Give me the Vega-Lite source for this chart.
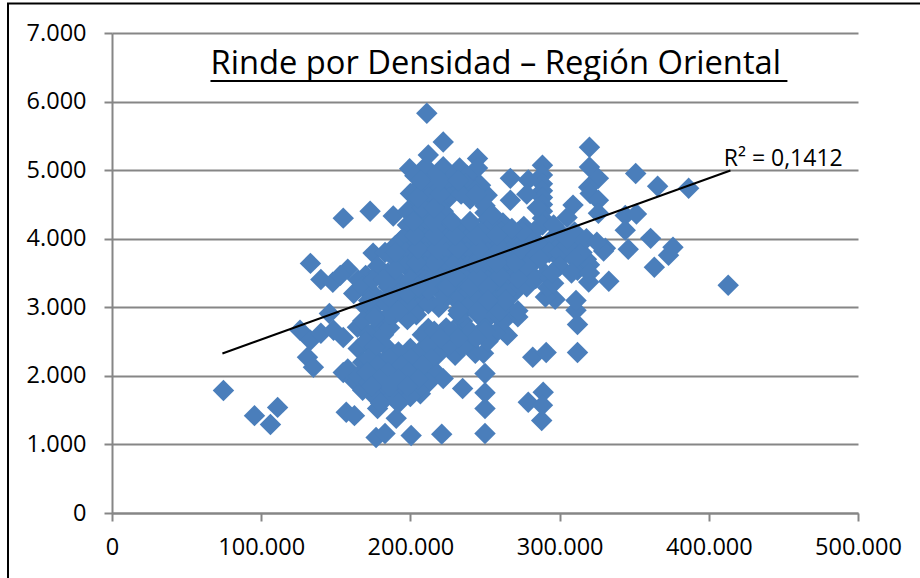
{"$schema":"https://vega.github.io/schema/vega-lite/v6.json","width":746,"height":480,"autosize":"none","padding":{"left":112,"top":33,"right":62,"bottom":65},"background":"white","config":{"view":{"stroke":null},"font":"Open Sans"},
"datasets":{
"pts":[{"x":74700,"y":1786},{"x":95500,"y":1420},{"x":106200,"y":1290},{"x":111000,"y":1540},{"x":413000,"y":3320},{"x":386500,"y":4735},{"x":351000,"y":4950},{"x":365700,"y":4765},{"x":344000,"y":4340},{"x":351500,"y":4360},{"x":344000,"y":4125},{"x":361000,"y":4005},{"x":376000,"y":3875},{"x":373000,"y":3760},{"x":346000,"y":3845},{"x":330700,"y":3860},{"x":329500,"y":3820},{"x":363500,"y":3585},{"x":333000,"y":3380},{"x":320000,"y":5335},{"x":320000,"y":5045},{"x":326000,"y":4880},{"x":319500,"y":4750},{"x":320500,"y":4660},{"x":326000,"y":4560},{"x":326000,"y":4370},{"x":309000,"y":4490},{"x":305000,"y":4310},{"x":288500,"y":5070},{"x":288500,"y":4930},{"x":288500,"y":4800},{"x":288500,"y":4700},{"x":288500,"y":4600},{"x":288500,"y":4500},{"x":288500,"y":4400},{"x":288500,"y":4300},{"x":288500,"y":4200},{"x":267000,"y":4880},{"x":279000,"y":4855},{"x":267000,"y":4560},{"x":245000,"y":5170},{"x":245000,"y":5030},{"x":240000,"y":4855},{"x":251500,"y":4635},{"x":222000,"y":5410},{"x":211000,"y":5830},{"x":212000,"y":5220},{"x":233000,"y":5030},{"x":199500,"y":5020},{"x":200000,"y":4660},{"x":200000,"y":4410},{"x":188500,"y":4330},{"x":193500,"y":3975},{"x":175000,"y":3790},{"x":155000,"y":4300},{"x":173000,"y":4400},{"x":133000,"y":3640},{"x":140000,"y":3405},{"x":148000,"y":3365},{"x":158000,"y":3555},{"x":153000,"y":3465},{"x":170000,"y":3465},{"x":178500,"y":3495},{"x":162000,"y":3200},{"x":145700,"y":2910},{"x":126000,"y":2665},{"x":133000,"y":2520},{"x":131000,"y":2270},{"x":135000,"y":2125},{"x":140000,"y":2620},{"x":148500,"y":2665},{"x":155000,"y":2560},{"x":164500,"y":2710},{"x":165000,"y":2400},{"x":155000,"y":2050},{"x":162000,"y":1935},{"x":168000,"y":1790},{"x":157000,"y":1470},{"x":162500,"y":1420},{"x":177000,"y":1100},{"x":183000,"y":1160},{"x":200500,"y":1130},{"x":190500,"y":1380},{"x":178000,"y":1525},{"x":221000,"y":1150},{"x":250000,"y":1160},{"x":250000,"y":1525},{"x":250000,"y":1755},{"x":250000,"y":2035},{"x":235000,"y":1815},{"x":222000,"y":1960},{"x":206700,"y":1740},{"x":230000,"y":2300},{"x":243500,"y":2330},{"x":249000,"y":2330},{"x":265000,"y":2590},{"x":282000,"y":2270},{"x":291000,"y":2340},{"x":312000,"y":2340},{"x":279000,"y":1615},{"x":289000,"y":1760},{"x":288500,"y":1570},{"x":288000,"y":1350},{"x":312000,"y":2750},{"x":311000,"y":2955},{"x":311000,"y":3100},{"x":297000,"y":3115},{"x":290500,"y":3150},{"x":292000,"y":3290},{"x":284000,"y":3420},{"x":290500,"y":3490},{"x":296000,"y":3350},{"x":319500,"y":3370},{"x":312000,"y":3540},{"x":320000,"y":3620},{"x":282000,"y":3640},{"x":272000,"y":2860},{"x":261800,"y":2860},{"x":269000,"y":3200},{"x":255000,"y":3030},{"x":210000,"y":5050},{"x":222000,"y":5050},{"x":203000,"y":4920},{"x":216000,"y":4920},{"x":228000,"y":4900},{"x":238000,"y":4920},{"x":211000,"y":4800},{"x":224000,"y":4800},{"x":237000,"y":4800},{"x":247000,"y":4780},{"x":203000,"y":4700},{"x":218000,"y":4700},{"x":232000,"y":4700},{"x":243000,"y":4700},{"x":212000,"y":4600},{"x":226000,"y":4600},{"x":240000,"y":4580},{"x":205000,"y":4500},{"x":219000,"y":4500},{"x":250000,"y":4480},{"x":198000,"y":4400},{"x":212000,"y":4400},{"x":222000,"y":4400},{"x":250000,"y":4380},{"x":205000,"y":4300},{"x":218000,"y":4300},{"x":252000,"y":4280},{"x":262000,"y":4230},{"x":198000,"y":4200},{"x":212000,"y":4200},{"x":226000,"y":4200},{"x":240000,"y":4200},{"x":254000,"y":4180},{"x":276000,"y":4180},{"x":205000,"y":4100},{"x":219000,"y":4100},{"x":233000,"y":4100},{"x":247000,"y":4100},{"x":261000,"y":4100},{"x":272000,"y":4090},{"x":283000,"y":4110},{"x":195000,"y":4000},{"x":210000,"y":4000},{"x":224000,"y":4000},{"x":238000,"y":4000},{"x":252000,"y":4000},{"x":266000,"y":4000},{"x":280000,"y":4000},{"x":295000,"y":4000},{"x":190000,"y":3900},{"x":203000,"y":3900},{"x":217000,"y":3900},{"x":231000,"y":3900},{"x":245000,"y":3900},{"x":259000,"y":3900},{"x":273000,"y":3900},{"x":287000,"y":3900},{"x":300000,"y":3900},{"x":312000,"y":3920},{"x":183000,"y":3800},{"x":197000,"y":3800},{"x":210000,"y":3800},{"x":224000,"y":3800},{"x":238000,"y":3800},{"x":252000,"y":3800},{"x":266000,"y":3800},{"x":280000,"y":3800},{"x":293000,"y":3800},{"x":306000,"y":3800},{"x":190000,"y":3700},{"x":203000,"y":3700},{"x":217000,"y":3700},{"x":231000,"y":3700},{"x":245000,"y":3700},{"x":259000,"y":3700},{"x":273000,"y":3700},{"x":287000,"y":3700},{"x":300000,"y":3700},{"x":318000,"y":3700},{"x":178000,"y":3600},{"x":197000,"y":3600},{"x":210000,"y":3600},{"x":224000,"y":3600},{"x":238000,"y":3600},{"x":252000,"y":3600},{"x":266000,"y":3600},{"x":272000,"y":3520},{"x":185000,"y":3500},{"x":203000,"y":3500},{"x":217000,"y":3500},{"x":231000,"y":3500},{"x":245000,"y":3500},{"x":259000,"y":3500},{"x":165000,"y":3400},{"x":192000,"y":3400},{"x":210000,"y":3400},{"x":224000,"y":3400},{"x":238000,"y":3400},{"x":252000,"y":3400},{"x":266000,"y":3400},{"x":168000,"y":3300},{"x":185000,"y":3300},{"x":198000,"y":3300},{"x":217000,"y":3300},{"x":231000,"y":3300},{"x":245000,"y":3300},{"x":259000,"y":3300},{"x":272000,"y":3300},{"x":175000,"y":3200},{"x":192000,"y":3200},{"x":205000,"y":3200},{"x":224000,"y":3200},{"x":238000,"y":3200},{"x":252000,"y":3200},{"x":180000,"y":3100},{"x":198000,"y":3100},{"x":212000,"y":3100},{"x":231000,"y":3100},{"x":245000,"y":3100},{"x":258000,"y":3100},{"x":170000,"y":3000},{"x":188000,"y":3000},{"x":205000,"y":3000},{"x":219000,"y":3000},{"x":238000,"y":3000},{"x":252000,"y":3000},{"x":265000,"y":3000},{"x":176000,"y":2900},{"x":196000,"y":2900},{"x":204000,"y":2890},{"x":232000,"y":2900},{"x":245000,"y":2900},{"x":168000,"y":2800},{"x":185000,"y":2800},{"x":198000,"y":2820},{"x":235000,"y":2800},{"x":250000,"y":2800},{"x":262000,"y":2790},{"x":178000,"y":2700},{"x":212000,"y":2690},{"x":224000,"y":2700},{"x":238000,"y":2700},{"x":250000,"y":2700},{"x":172000,"y":2600},{"x":208000,"y":2600},{"x":220000,"y":2600},{"x":232000,"y":2600},{"x":245000,"y":2600},{"x":257000,"y":2620},{"x":180000,"y":2500},{"x":215000,"y":2500},{"x":228000,"y":2500},{"x":240000,"y":2500},{"x":252000,"y":2500},{"x":185000,"y":2400},{"x":200000,"y":2400},{"x":222000,"y":2400},{"x":235000,"y":2420},{"x":175000,"y":2300},{"x":190000,"y":2300},{"x":205000,"y":2300},{"x":218000,"y":2300},{"x":168000,"y":2200},{"x":182000,"y":2200},{"x":196000,"y":2200},{"x":210000,"y":2200},{"x":158000,"y":2100},{"x":172000,"y":2100},{"x":188000,"y":2100},{"x":202000,"y":2100},{"x":215000,"y":2100},{"x":165000,"y":2000},{"x":178000,"y":2000},{"x":192000,"y":2000},{"x":206000,"y":2000},{"x":172000,"y":1900},{"x":186000,"y":1900},{"x":198000,"y":1900},{"x":212000,"y":1900},{"x":180000,"y":1800},{"x":192000,"y":1800},{"x":205000,"y":1800},{"x":176000,"y":1700},{"x":188000,"y":1700},{"x":200000,"y":1700},{"x":180000,"y":1600},{"x":192000,"y":1600},{"x":182000,"y":2600},{"x":186000,"y":2700},{"x":170000,"y":2500},{"x":176000,"y":2420},{"x":192000,"y":2350},{"x":206000,"y":2350},{"x":212000,"y":2450},{"x":226000,"y":2450},{"x":214000,"y":2250},{"x":200000,"y":2250},{"x":186000,"y":2250},{"x":172000,"y":2250},{"x":178000,"y":2150},{"x":194000,"y":2150},{"x":208000,"y":2150},{"x":185000,"y":2050},{"x":199000,"y":2050},{"x":171000,"y":2050},{"x":179000,"y":1950},{"x":192000,"y":1950},{"x":205000,"y":1950},{"x":186000,"y":1850},{"x":198000,"y":1850},{"x":174000,"y":1850},{"x":240000,"y":2650},{"x":228000,"y":2650},{"x":216000,"y":2650},{"x":250000,"y":2650},{"x":244000,"y":2550},{"x":232000,"y":2550},{"x":220000,"y":2550},{"x":258000,"y":2900},{"x":272000,"y":2950},{"x":260000,"y":2950},{"x":245000,"y":2950},{"x":232000,"y":2950},{"x":212000,"y":3050},{"x":198000,"y":3050},{"x":184000,"y":3050},{"x":172000,"y":3100},{"x":186000,"y":2900},{"x":176000,"y":2850},{"x":192000,"y":2950},{"x":222000,"y":3100},{"x":222000,"y":3200},{"x":212000,"y":3250},{"x":198000,"y":3200},{"x":186000,"y":3150},{"x":175000,"y":3400},{"x":182000,"y":3400},{"x":200000,"y":3400},{"x":190000,"y":3550},{"x":205000,"y":3300},{"x":225000,"y":3300},{"x":240000,"y":3300},{"x":252000,"y":3300},{"x":264000,"y":3200},{"x":264000,"y":3100},{"x":252000,"y":3100},{"x":278000,"y":3300},{"x":280000,"y":3450},{"x":272000,"y":3420},{"x":260000,"y":3450},{"x":245000,"y":3450},{"x":230000,"y":3450},{"x":216000,"y":3450},{"x":278000,"y":3600},{"x":270000,"y":3650},{"x":258000,"y":3650},{"x":244000,"y":3650},{"x":230000,"y":3650},{"x":216000,"y":3650},{"x":204000,"y":3650},{"x":205000,"y":3850},{"x":190000,"y":3800},{"x":218000,"y":3850},{"x":232000,"y":3850},{"x":246000,"y":3850},{"x":260000,"y":3850},{"x":274000,"y":3850},{"x":203000,"y":4050},{"x":216000,"y":4050},{"x":230000,"y":4050},{"x":244000,"y":4050},{"x":258000,"y":4050},{"x":215000,"y":4250},{"x":228000,"y":4250},{"x":202000,"y":4250},{"x":208000,"y":4450},{"x":216000,"y":4450},{"x":205000,"y":4600},{"x":220000,"y":4650},{"x":234000,"y":4650},{"x":207000,"y":4850},{"x":220000,"y":4850},{"x":232000,"y":4850},{"x":244000,"y":4640},{"x":240000,"y":4250},{"x":255000,"y":4350},{"x":285000,"y":4450},{"x":278000,"y":4650},{"x":275000,"y":4100},{"x":268000,"y":4150},{"x":300000,"y":3800},{"x":305000,"y":3900},{"x":315000,"y":3800},{"x":310000,"y":3700},{"x":300000,"y":4100},{"x":296000,"y":4200},{"x":305000,"y":4000},{"x":310000,"y":4100},{"x":318000,"y":4000},{"x":325000,"y":3950},{"x":300000,"y":3600},{"x":295000,"y":3500},{"x":308000,"y":3500},{"x":320000,"y":3500}],
"trend":[{"x":74000,"y":2326},{"x":414500,"y":4995}],
"under":[{"x":66000,"y":6300},{"x":452700,"y":6300}],
"labels":[{"x":66000,"y":6395,"t":"Rinde por Densidad – Región Oriental","s":32.7},{"x":410000,"y":5060,"t":"R² = 0,1412","s":23}],
"border":[{"x":-69700,"x2":560000,"y":7430,"y2":-1000}]},
"encoding":{"x":{"field":"x","type":"quantitative","scale":{"domain":[0,500000],"nice":false},"axis":{"title":null,"values":[0,100000,200000,300000,400000,500000],"labelExpr":"replace(format(datum.value,','),',','.')","grid":false,"domainColor":"#868686","domainWidth":2,"tickColor":"#868686","tickWidth":2,"tickSize":8,"labelFontSize":23.5,"labelColor":"#000","labelFont":"Open Sans","labelPadding":14,"labelFlush":false}},
"y":{"field":"y","type":"quantitative","scale":{"domain":[0,7000],"nice":false},"axis":{"title":null,"values":[0,1000,2000,3000,4000,5000,6000,7000],"labelExpr":"replace(format(datum.value,','),',','.')","grid":true,"gridColor":"#868686","gridWidth":2,"domainColor":"#868686","domainWidth":2,"tickColor":"#868686","tickWidth":2,"tickSize":8,"labelFontSize":23.5,"labelColor":"#000","labelFont":"Open Sans","labelPadding":18}}},
"layer":[
{"data":{"name":"pts"},"mark":{"type":"point","shape":"diamond","filled":true,"size":460,"color":"#4a7ebb","opacity":1}},
{"data":{"name":"trend"},"mark":{"type":"line","color":"#000","strokeWidth":2}},
{"data":{"name":"under"},"mark":{"type":"line","color":"#000","strokeWidth":2}},
{"data":{"name":"labels"},"mark":{"type":"text","align":"left","baseline":"alphabetic","color":"#000","font":"Open Sans"},"encoding":{"text":{"field":"t"},"size":{"field":"s","type":"quantitative","scale":null}}},
{"data":{"name":"border"},"mark":{"type":"rect","filled":false,"stroke":"#000","strokeWidth":2},"encoding":{"x2":{"field":"x2"},"y2":{"field":"y2"}}}
]}
